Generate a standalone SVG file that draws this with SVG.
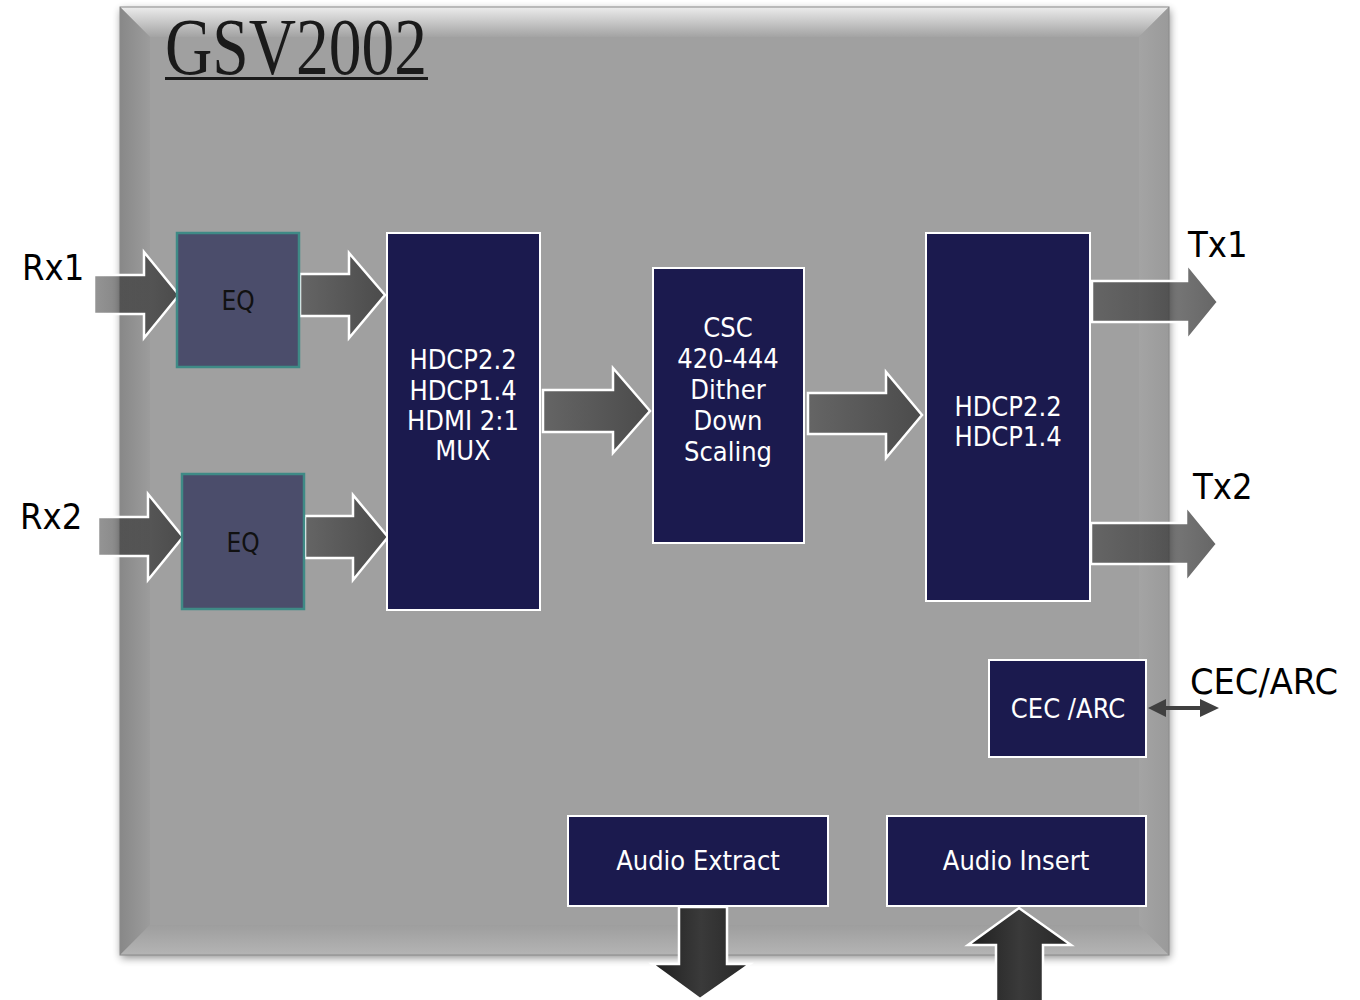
<svg xmlns="http://www.w3.org/2000/svg" width="1360" height="1000" viewBox="0 0 1360 1000">
  <defs>
    <filter id="shadow" x="-5%" y="-5%" width="110%" height="110%">
      <feGaussianBlur in="SourceAlpha" stdDeviation="4"/>
      <feOffset dx="1" dy="3" result="b"/>
      <feComponentTransfer><feFuncA type="linear" slope="0.45"/></feComponentTransfer>
      <feMerge><feMergeNode/><feMergeNode in="SourceGraphic"/></feMerge>
    </filter>
    <linearGradient id="bevTop" x1="0" y1="0" x2="0" y2="1">
      <stop offset="0" stop-color="#ececec"/>
      <stop offset="1" stop-color="#a3a3a3"/>
    </linearGradient>
    <linearGradient id="bevLeft" x1="0" y1="0" x2="1" y2="0">
      <stop offset="0" stop-color="#888888"/>
      <stop offset="1" stop-color="#9c9c9c"/>
    </linearGradient>
    <linearGradient id="bevBottom" x1="0" y1="0" x2="0" y2="1">
      <stop offset="0" stop-color="#9e9e9e"/>
      <stop offset="1" stop-color="#b4b4b4"/>
    </linearGradient>
    <linearGradient id="bevRight" x1="0" y1="0" x2="1" y2="0">
      <stop offset="0" stop-color="#a4a4a4"/>
      <stop offset="1" stop-color="#9a9a9a"/>
    </linearGradient>
    <linearGradient id="hArrow" x1="0" y1="0" x2="1" y2="0">
      <stop offset="0" stop-color="#2a2a2a" stop-opacity="0.5"/>
      <stop offset="1" stop-color="#2a2a2a" stop-opacity="0.72"/>
    </linearGradient>
    <linearGradient id="vArrow" x1="0" y1="0" x2="1" y2="0">
      <stop offset="0" stop-color="#1e1e1e"/>
      <stop offset="0.5" stop-color="#3a3a3a"/>
      <stop offset="1" stop-color="#262626"/>
    </linearGradient>
  </defs>
  <style>
    .navy { fill: #1b1a4e; stroke: #ffffff; stroke-width: 2; }
    .eq { fill: #4b4d6b; stroke: #3f8a86; stroke-width: 2.5; }
    .wt { font-family: "DejaVu Sans Condensed", "DejaVu Sans", sans-serif; font-stretch: condensed; fill: #ffffff; font-size: 27px; text-anchor: middle; }
    .bt { font-family: "DejaVu Sans Condensed", "DejaVu Sans", sans-serif; font-stretch: condensed; fill: #000000; font-size: 36px; }
    .eqt { font-family: "DejaVu Sans Condensed", "DejaVu Sans", sans-serif; font-stretch: condensed; fill: #111111; font-size: 26px; text-anchor: middle; }
    .ha { fill: url(#hArrow); stroke: #ffffff; stroke-width: 2.5; stroke-linejoin: miter; }
    .va { fill: url(#vArrow); stroke: #ffffff; stroke-width: 2.5; }
  </style>

  <rect width="1360" height="1000" fill="#ffffff"/>

  <!-- Chip body -->
  <g id="chip">
    <rect x="120" y="7" width="1049" height="948" fill="#a0a0a0" filter="url(#shadow)"/>
    <polygon points="120,7 1169,7 1139,37 150,37" fill="url(#bevTop)"/>
    <polygon points="120,7 150,37 150,925 120,955" fill="url(#bevLeft)"/>
    <polygon points="120,955 150,925 1139,925 1169,955" fill="url(#bevBottom)"/>
    <polygon points="1169,7 1139,37 1139,925 1169,955" fill="url(#bevRight)"/>
    <rect x="120" y="7" width="1049" height="948" fill="none" stroke="#8a8a8a" stroke-width="1"/>
    <text x="165" y="74" font-family="'Liberation Serif', 'DejaVu Serif', serif" font-size="80" fill="#1a1a1a" textLength="262" lengthAdjust="spacingAndGlyphs">GSV2002</text>
    <rect x="165" y="77" width="263" height="3" fill="#1a1a1a"/>
  </g>

  <!-- Connectors -->
  <g id="connectors">
    <!-- Rx1 -->
    <polygon class="ha" points="94,275 144,275 144,252 179,295 144,338 144,314 94,314"/>
    <!-- EQ1 -> MUX -->
    <polygon class="ha" points="300,274 349,274 349,253 385,295 349,338 349,316 300,316"/>
    <!-- Rx2 -->
    <polygon class="ha" points="98,517 148,517 148,494 183,537 148,580 148,556 98,556"/>
    <!-- EQ2 -> MUX -->
    <polygon class="ha" points="305,516 353,516 353,495 388,537 353,580 353,558 305,558"/>
    <!-- MUX -> CSC -->
    <polygon class="ha" points="543,390 613,390 613,368 650,411 613,453 613,432 543,432"/>
    <!-- CSC -> HDCP -->
    <polygon class="ha" points="808,393 886,393 886,372 922,415 886,458 886,434 808,434"/>
    <!-- Tx1 -->
    <polygon class="ha" points="1092,281 1187,281 1187,264 1218,302 1187,340 1187,322 1092,322"/>
    <!-- Tx2 -->
    <polygon class="ha" points="1091,523 1186,523 1186,506 1217,544 1186,582 1186,564 1091,564"/>
    <!-- CEC/ARC double arrow -->
    <polygon points="1148,708 1166,699 1166,706 1200,706 1200,699 1219,708 1200,717 1200,710 1166,710 1166,717" fill="#404040"/>
    <!-- Audio Extract down -->
    <polygon class="va" points="679,907 727,907 727,964 750,964 700,999 652,964 679,964"/>
    <!-- Audio Insert up -->
    <polygon class="va" points="1019,908 1071,945 1043,945 1043,1002 996,1002 996,945 968,945"/>
  </g>

  <!-- Nodes -->
  <g id="eq1">
    <rect class="eq" x="177" y="233" width="122" height="134"/>
    <text class="eqt" x="238" y="310">EQ</text>
  </g>
  <g id="eq2">
    <rect class="eq" x="182" y="474" width="122" height="135"/>
    <text class="eqt" x="243" y="552">EQ</text>
  </g>
  <g id="mux">
    <rect class="navy" x="387" y="233" width="153" height="377"/>
    <text class="wt" x="463" y="369">HDCP2.2</text>
    <text class="wt" x="463" y="400">HDCP1.4</text>
    <text class="wt" x="463" y="430">HDMI 2:1</text>
    <text class="wt" x="463" y="460">MUX</text>
  </g>
  <g id="csc">
    <rect class="navy" x="653" y="268" width="151" height="275"/>
    <text class="wt" x="728" y="337">CSC</text>
    <text class="wt" x="728" y="368">420-444</text>
    <text class="wt" x="728" y="399">Dither</text>
    <text class="wt" x="728" y="430">Down</text>
    <text class="wt" x="728" y="461">Scaling</text>
  </g>
  <g id="hdcp-tx">
    <rect class="navy" x="926" y="233" width="164" height="368"/>
    <text class="wt" x="1008" y="416">HDCP2.2</text>
    <text class="wt" x="1008" y="446">HDCP1.4</text>
  </g>
  <g id="cec">
    <rect class="navy" x="989" y="660" width="157" height="97"/>
    <text class="wt" x="1068" y="718">CEC /ARC</text>
  </g>
  <g id="audio-extract">
    <rect class="navy" x="568" y="816" width="260" height="90"/>
    <text class="wt" x="698" y="870">Audio Extract</text>
  </g>
  <g id="audio-insert">
    <rect class="navy" x="887" y="816" width="259" height="90"/>
    <text class="wt" x="1016" y="870">Audio Insert</text>
  </g>

  <!-- External labels -->
  <g id="labels">
    <text class="bt" x="22" y="280">Rx1</text>
    <text class="bt" x="20" y="529">Rx2</text>
    <text class="bt" x="1188" y="257">Tx1</text>
    <text class="bt" x="1193" y="499">Tx2</text>
    <text class="bt" x="1190" y="694" textLength="148" lengthAdjust="spacingAndGlyphs">CEC/ARC</text>
  </g>
</svg>
